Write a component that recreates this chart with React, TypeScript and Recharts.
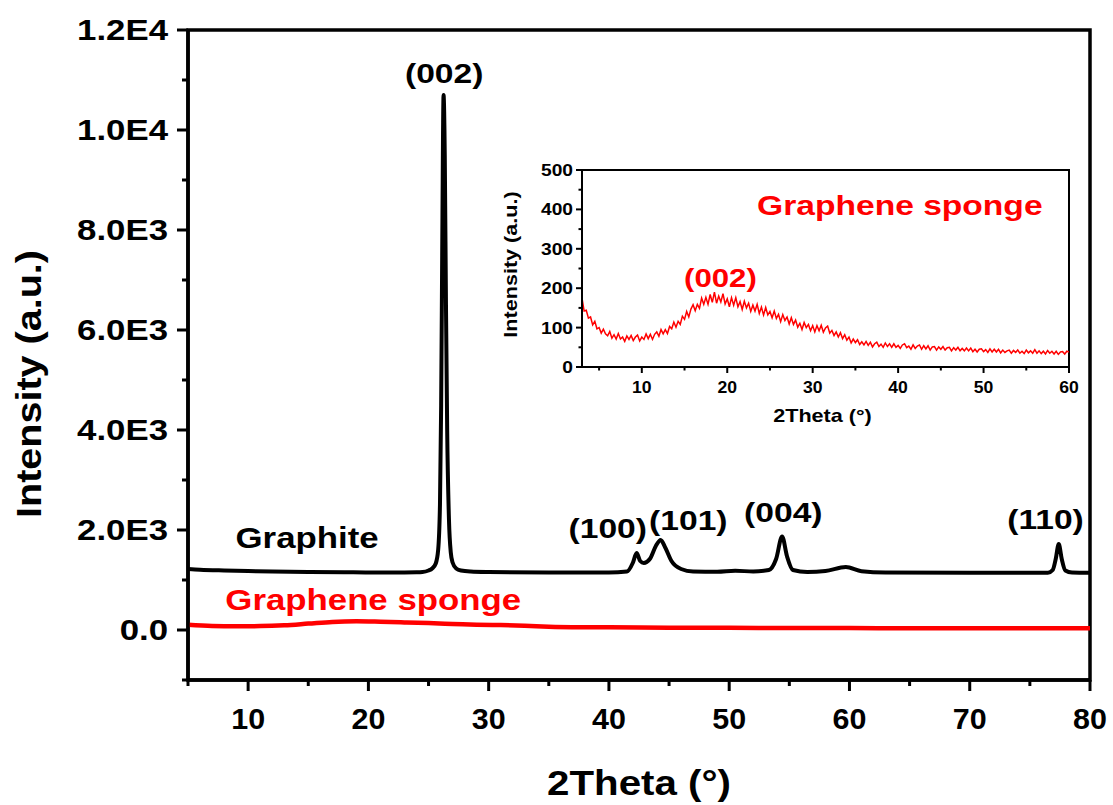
import React from 'react';
import { Label, Line, LineChart, ReferenceArea, ReferenceDot, XAxis, YAxis } from 'recharts';

// ---- data ----
// graphite XRD pattern: [2theta, intensity]
const graphitePoints: [number, number][] = [
  [5, 1220], [6, 1205], [8, 1190], [10, 1180], [12, 1170], [15, 1160], [18, 1155], [20, 1150],
  [22, 1150], [24, 1155], [24.5, 1160], [25, 1190], [25.3, 1230], [25.6, 1330], [25.8, 1600],
  [25.95, 2500], [26.05, 4500], [26.15, 8000], [26.25, 10700], [26.35, 9500], [26.45, 6500],
  [26.55, 4000], [26.7, 2200], [26.85, 1550], [27, 1350], [27.3, 1230], [27.7, 1190], [28.5, 1170],
  [30, 1160], [35, 1150], [40, 1150], [41.5, 1170], [42, 1350], [42.3, 1540], [42.6, 1380],
  [42.9, 1340], [43.4, 1420], [43.9, 1680], [44.3, 1800], [44.7, 1640], [45.2, 1380], [46, 1220],
  [47, 1170], [49, 1165], [50.5, 1185], [52, 1170], [53.3, 1200], [53.9, 1420], [54.4, 1870],
  [54.8, 1480], [55.3, 1200], [56.5, 1160], [58, 1180], [59.7, 1260], [61, 1175], [63, 1150],
  [70, 1145], [76.5, 1145], [76.9, 1200], [77.15, 1420], [77.4, 1720], [77.65, 1420], [77.95, 1190],
  [78.5, 1150], [80, 1145],
];

// graphene sponge, full range (main panel)
const spongeMainPoints: [number, number][] = [
  [5, 105], [7, 80], [9, 74], [11, 78], [13, 95], [15, 128], [17, 162], [19, 174], [21, 165],
  [23, 152], [25, 138], [27, 122], [29, 106], [31, 98], [33, 84], [35, 67], [38, 56], [40, 53],
  [45, 47], [50, 43], [55, 40], [60, 38], [65, 36], [70, 35], [75, 34], [80, 33],
];

// graphene sponge, inset, sampled every 0.25 deg from 3 deg (one row = 3 deg)
const insetStart = 3;
const insetStep = 0.25;
const spongeInsetIntensity = [
  175, 142, 144, 124, 127, 107, 116, 97, 100, 86, 96, 84,
  79, 90, 73, 82, 71, 85, 71, 76, 65, 79, 70, 80,
  67, 76, 81, 66, 76, 70, 84, 72, 83, 70, 83, 89,
  78, 95, 84, 95, 85, 103, 97, 114, 101, 116, 108, 129,
  121, 141, 127, 147, 158, 143, 159, 149, 175, 159, 177, 159,
  184, 164, 190, 162, 180, 165, 186, 160, 173, 153, 176, 157,
  176, 153, 166, 146, 167, 150, 162, 141, 157, 142, 159, 136,
  152, 132, 151, 132, 141, 125, 142, 123, 134, 115, 133, 118,
  127, 109, 125, 108, 119, 101, 111, 95, 113, 100, 108, 92,
  105, 89, 105, 92, 106, 88, 99, 104, 86, 93, 80, 89,
  76, 87, 72, 82, 68, 76, 61, 71, 62, 69, 57, 64,
  56, 65, 55, 63, 51, 59, 63, 52, 58, 50, 61, 52,
  59, 50, 59, 50, 55, 47, 56, 59, 49, 53, 45, 56,
  47, 53, 56, 45, 54, 46, 54, 43, 51, 52, 43, 51,
  45, 52, 43, 49, 50, 41, 49, 43, 50, 41, 47, 41,
  48, 41, 48, 39, 45, 38, 45, 46, 39, 44, 37, 46,
  38, 45, 38, 45, 36, 43, 37, 41, 43, 35, 42, 37,
  43, 35, 40, 34, 43, 36, 41, 35, 44, 35, 41, 34,
  40, 33, 42, 35, 40, 33, 40, 32, 38, 39, 33, 40,
  38,
];

const mainXTicks = [5, 10, 15, 20, 25, 30, 35, 40, 45, 50, 55, 60, 65, 70, 75, 80];
const mainYTicks = [-1000, 0, 1000, 2000, 3000, 4000, 5000, 6000, 7000, 8000, 9000, 10000, 11000, 12000];
const insetXTicks = [5, 10, 15, 20, 25, 30, 35, 40, 45, 50, 55, 60];
const insetYTicks = [0, 50, 100, 150, 200, 250, 300, 350, 400, 450, 500];

// peak annotations: [text, 2theta, intensity]
const mainPeakLabels: [string, number, number][] = [
  ['(002)', 26.3, 10940],
  ['(100)', 39.9, 1840],
  ['(101)', 46.6, 2000],
  ['(004)', 54.5, 2160],
  ['(110)', 76.3, 2020],
];

const graphite = graphitePoints.map(([x, y]) => ({ x, y }));
const spongeMain = spongeMainPoints.map(([x, y]) => ({ x, y }));
const spongeInset = spongeInsetIntensity.map((y, i) => ({ x: insetStart + i * insetStep, y }));

const FONT = "'Liberation Sans', Arial, Helvetica, sans-serif";
const RED = '#ff0000';

// the source figure is stretched horizontally, so text is too
const SText = ({
  x,
  y,
  text,
  size,
  color = '#000',
  anchor = 'middle',
  rotate = 0,
  sx = 1.2,
}: {
  x: number;
  y: number;
  text: string;
  size: number;
  color?: string;
  anchor?: 'start' | 'middle' | 'end';
  rotate?: number;
  sx?: number;
}) => (
  <g transform={`translate(${x},${y}) rotate(${rotate}) scale(${sx},1)`}>
    <text x={0} y={0} textAnchor={anchor} fontFamily={FONT} fontWeight="bold" fontSize={size} fill={color}>
      {text}
    </text>
  </g>
);

const fmtMain = (v: number) => {
  if (v === 0) return '0.0';
  const e = Math.floor(Math.log10(Math.abs(v)));
  return `${(v / 10 ** e).toFixed(1)}E${e}`;
};

const MainYTick = (props: any) => {
  const { x, y, payload } = props;
  const major = payload.value % 2000 === 0;
  return (
    <g>
      <line x1={x} x2={x - (major ? 11 : 6)} y1={y} y2={y} stroke="#000" strokeWidth={3} />
      {major && <SText x={x - 20} y={y + 10} anchor="end" size={29} text={fmtMain(payload.value)} />}
    </g>
  );
};

const MainXTick = (props: any) => {
  const { x, y, payload } = props;
  const major = payload.value % 10 === 0;
  return (
    <g>
      <line x1={x} x2={x} y1={y} y2={y + (major ? 11 : 6)} stroke="#000" strokeWidth={3} />
      {major && <SText x={x} y={y + 49} size={29} sx={1.05} text={String(payload.value)} />}
    </g>
  );
};

const InsetYTick = (props: any) => {
  const { x, y, payload } = props;
  const major = payload.value % 100 === 0;
  return (
    <g>
      <line x1={x} x2={x - (major ? 6 : 3.5)} y1={y} y2={y} stroke="#000" strokeWidth={2} />
      {major && <SText x={x - 9} y={y + 6} anchor="end" size={16} text={String(payload.value)} />}
    </g>
  );
};

const InsetXTick = (props: any) => {
  const { x, y, payload } = props;
  const major = payload.value % 10 === 0;
  return (
    <g>
      <line x1={x} x2={x} y1={y} y2={y + (major ? 6 : 3.5)} stroke="#000" strokeWidth={2} />
      {major && <SText x={x} y={y + 26} size={16} sx={1.1} text={String(payload.value)} />}
    </g>
  );
};

const textDot = (text: string, size: number, color = '#000') => (p: any) => (
  <SText x={p.cx} y={p.cy} size={size} color={color} text={text} />
);

export default function App() {
  return (
    <div style={{ position: 'absolute', left: 0, top: 0, width: 1113, height: 805, background: '#fff' }}>
      <LineChart width={1113} height={805} margin={{ top: 30, right: 23, bottom: 0, left: 0 }}>
        <XAxis
          dataKey="x"
          type="number"
          domain={[5, 80]}
          ticks={mainXTicks}
          allowDataOverflow
          height={125}
          tickSize={0}
          tickMargin={0}
          tickLine={false}
          tick={<MainXTick />}
          axisLine={{ stroke: '#000', strokeWidth: 3.5 }}
          interval={0}
        >
          <Label
            content={(p: any) => (
              <SText
                x={p.viewBox.x + p.viewBox.width / 2}
                y={p.viewBox.y + 115}
                size={35}
                sx={1.15}
                text="2Theta (°)"
              />
            )}
          />
        </XAxis>
        <YAxis
          type="number"
          domain={[-1000, 12000]}
          ticks={mainYTicks}
          allowDataOverflow
          width={188}
          tickSize={0}
          tickMargin={0}
          tickLine={false}
          tick={<MainYTick />}
          axisLine={{ stroke: '#000', strokeWidth: 3.5 }}
          interval={0}
        >
          <Label
            content={(p: any) => (
              <SText
                x={41}
                y={p.viewBox.y + p.viewBox.height / 2 + 29}
                size={35}
                sx={1.13}
                rotate={-90}
                text="Intensity (a.u.)"
              />
            )}
          />
        </YAxis>
        <ReferenceArea x1={5} x2={80} y1={-1000} y2={12000} fill="none" stroke="#000" strokeWidth={3.5} />
        <Line
          data={graphite}
          dataKey="y"
          type="monotone"
          stroke="#000"
          strokeWidth={4}
          dot={false}
          isAnimationActive={false}
        />
        <Line
          data={spongeMain}
          dataKey="y"
          type="monotone"
          stroke={RED}
          strokeWidth={4.5}
          dot={false}
          isAnimationActive={false}
        />
        {mainPeakLabels.map(([t, x, y]) => (
          <ReferenceDot key={t} x={x} y={y} r={0} shape={textDot(t, 28)} />
        ))}
        <ReferenceDot x={14.9} y={1640} r={0} shape={textDot('Graphite', 29)} />
        <ReferenceDot x={20.4} y={400} r={0} shape={textDot('Graphene sponge', 29, RED)} />
      </LineChart>

      <div style={{ position: 'absolute', left: 480, top: 150 }}>
        <LineChart width={600} height={290} margin={{ top: 20, right: 11, bottom: 0, left: 0 }}>
          <XAxis
            dataKey="x"
            type="number"
            domain={[3, 60]}
            ticks={insetXTicks}
            allowDataOverflow
            height={73}
            tickSize={0}
            tickMargin={0}
            tickLine={false}
            tick={<InsetXTick />}
            axisLine={{ stroke: '#000', strokeWidth: 2 }}
            interval={0}
          >
            <Label
              content={(p: any) => (
                <SText x={p.viewBox.x + p.viewBox.width / 2 - 3} y={p.viewBox.y + 55} size={18} text="2Theta (°)" />
              )}
            />
          </XAxis>
          <YAxis
            type="number"
            domain={[0, 500]}
            ticks={insetYTicks}
            allowDataOverflow
            width={102}
            tickSize={0}
            tickMargin={0}
            tickLine={false}
            tick={<InsetYTick />}
            axisLine={{ stroke: '#000', strokeWidth: 2 }}
            interval={0}
          >
            <Label
              content={(p: any) => (
                <SText
                  x={p.viewBox.x + 37}
                  y={p.viewBox.y + p.viewBox.height / 2 - 4}
                  size={18}
                  rotate={-90}
                  text="Intensity (a.u.)"
                />
              )}
            />
          </YAxis>
          <ReferenceArea x1={3} x2={60} y1={0} y2={500} fill="none" stroke="#000" strokeWidth={2} />
          <Line
            data={spongeInset}
            dataKey="y"
            type="linear"
            stroke={RED}
            strokeWidth={1.5}
            dot={false}
            isAnimationActive={false}
          />
          <ReferenceDot x={40.2} y={386} r={0} shape={textDot('Graphene sponge', 28, RED)} />
          <ReferenceDot x={19.2} y={203} r={0} shape={textDot('(002)', 26, RED)} />
        </LineChart>
      </div>
    </div>
  );
}
